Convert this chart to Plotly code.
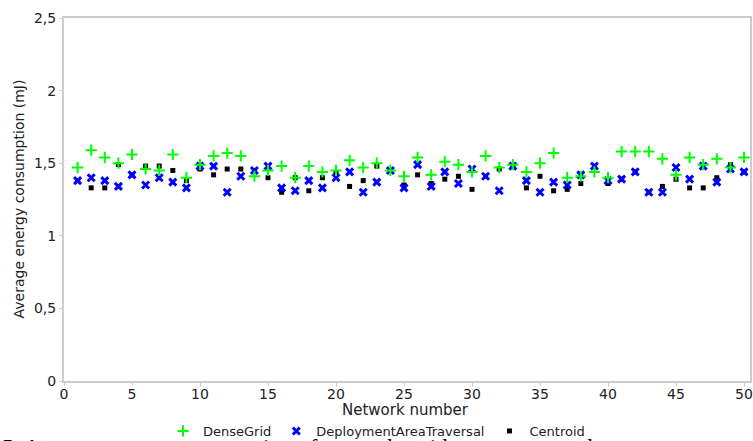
import plotly.graph_objects as go

# Network index on the x axis
network = list(range(1, 51))

# Average energy consumption (mJ) per network and strategy
dense_grid = [1.47, 1.59, 1.54, 1.50, 1.56, 1.46, 1.45, 1.56, 1.40, 1.49,
              1.55, 1.57, 1.55, 1.41, 1.45, 1.48, 1.40, 1.48, 1.44, 1.45,
              1.52, 1.47, 1.50, 1.45, 1.41, 1.54, 1.42, 1.51, 1.49, 1.44,
              1.55, 1.47, 1.49, 1.44, 1.50, 1.57, 1.40, 1.41, 1.44, 1.40,
              1.58, 1.58, 1.58, 1.53, 1.42, 1.54, 1.49, 1.53, 1.47, 1.54]
deployment = [1.38, 1.40, 1.38, 1.34, 1.42, 1.35, 1.40, 1.37, 1.33, 1.48,
              1.48, 1.30, 1.41, 1.45, 1.48, 1.33, 1.31, 1.38, 1.33, 1.40,
              1.44, 1.30, 1.37, 1.45, 1.33, 1.49, 1.34, 1.44, 1.36, 1.46,
              1.41, 1.31, 1.48, 1.38, 1.30, 1.37, 1.35, 1.42, 1.48, 1.38,
              1.39, 1.44, 1.30, 1.30, 1.47, 1.39, 1.48, 1.37, 1.46, 1.44]
centroid = [1.38, 1.33, 1.33, 1.49, 1.42, 1.48, 1.48, 1.45, 1.38, 1.46,
            1.42, 1.46, 1.46, 1.45, 1.40, 1.30, 1.40, 1.31, 1.40, 1.43,
            1.34, 1.38, 1.48, 1.45, 1.35, 1.42, 1.36, 1.39, 1.41, 1.32,
            1.41, 1.46, 1.48, 1.33, 1.41, 1.31, 1.32, 1.36, 1.48, 1.36,
            1.39, 1.44, 1.30, 1.34, 1.39, 1.33, 1.33, 1.40, 1.49, 1.44]

x_ticks = [0, 5, 10, 15, 20, 25, 30, 35, 40, 45, 50]
y_ticks = [0, 0.5, 1, 1.5, 2, 2.5]
y_tick_text = ["0", "0,5", "1", "1,5", "2", "2,5"]

FONT = "DejaVu Sans"
AXIS_GREY = "#cccccc"
TEXT = "#222222"

fig = go.Figure()
fig.add_trace(go.Scatter(
    x=network, y=centroid, mode="markers", name="Centroid", legendrank=3,
    marker=dict(symbol="square", size=5, color="#000000"),
))
fig.add_trace(go.Scatter(
    x=network, y=deployment, mode="markers", name="DeploymentAreaTraversal", legendrank=2,
    marker=dict(symbol="x-thin", size=7, color="#0000ff",
                line=dict(width=3, color="#0000ff")),
))
fig.add_trace(go.Scatter(
    x=network, y=dense_grid, mode="markers", name="DenseGrid", legendrank=1,
    marker=dict(symbol="cross-thin", size=8, color="#00ff00",
                line=dict(width=2, color="#00ff00")),
))

axis_common = dict(
    showline=True, linecolor=AXIS_GREY, linewidth=2, mirror=True,
    ticks="outside", ticklen=3, tickcolor=AXIS_GREY, tickwidth=1,
    showgrid=False, zeroline=False, automargin=False,
    tickfont=dict(family=FONT, size=14, color=TEXT),
)

fig.update_xaxes(range=[0, 50.44], tickvals=x_ticks, ticklabelstandoff=-4, **axis_common)
fig.update_yaxes(range=[0, 2.5], tickvals=y_ticks, ticktext=y_tick_text, **axis_common)

# axis titles, placed by pixel offsets from the plot frame
fig.add_annotation(
    text="Network number", xref="paper", yref="paper",
    x=(405 - 64) / 686, y=(381 - 410) / 363, xanchor="center", yanchor="middle",
    showarrow=False, font=dict(family=FONT, size=15, color=TEXT),
)
fig.add_annotation(
    text="Average energy consumption (mJ)", xref="paper", yref="paper",
    x=(18 - 64) / 686, y=0.5, xanchor="center", yanchor="middle", textangle=-90,
    showarrow=False, font=dict(family=FONT, size=14, color=TEXT),
)

# figure caption running off the bottom edge
fig.add_annotation(
    text="5. Average energy consumption of networks with ten sensor nodes",
    xref="paper", yref="paper", x=-64 / 686, y=(381 - 433) / 363,
    xanchor="left", yanchor="top", showarrow=False,
    font=dict(family="Liberation Serif", size=23, color="#000000"),
)

fig.update_layout(
    width=753, height=441,
    margin=dict(l=64, r=3, t=18, b=60, autoexpand=False),
    paper_bgcolor="white", plot_bgcolor="white",
    font=dict(family=FONT, color=TEXT),
    showlegend=True,
    legend=dict(
        orientation="h", xref="container", x=0.5, xanchor="center",
        yref="container", y=1 - 431 / 441, yanchor="middle",
        font=dict(family=FONT, size=13, color=TEXT),
        itemwidth=30, tracegroupgap=0, bgcolor="rgba(0,0,0,0)",
    ),
)

fig.write_html("out.html")
